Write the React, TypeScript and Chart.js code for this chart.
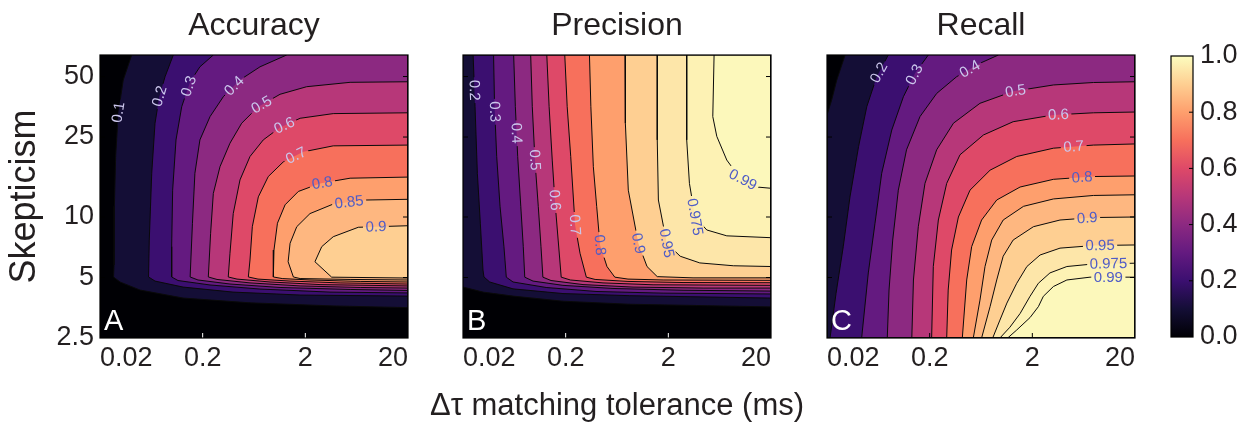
import React, { useEffect, useRef } from 'react';
import { Chart, registerables } from 'chart.js';

Chart.register(...registerables);

const FONT = "'Liberation Sans', Arial, Helvetica, sans-serif";
Chart.defaults.font.family = FONT;
Chart.defaults.color = '#231f20';

// ---------- axes ----------
const xMin = 0.02;
const xMax = 20;
const yMin = 2.5;
const yMax = 64;
const xTickValues = [0.02, 0.2, 2, 20];
const xTickLabels = ['0.02', '0.2', '2', '20'];
const yTickValues = [2.5, 5, 10, 25, 50];
const yTickLabels = ['2.5', '5', '10', '25', '50'];
const colorbarTickValues = [0, 0.2, 0.4, 0.6, 0.8, 1];
const colorbarTickLabels = ['0.0', '0.2', '0.4', '0.6', '0.8', '1.0'];
const xAxisLabel = 'Δτ matching tolerance (ms)';
const yAxisLabel = 'Skepticism';

// ---------- Accuracy (A) : contour lines [tolerance ms, skepticism] ----------
const accuracyLevels = [0.1, 0.2, 0.3, 0.4, 0.5, 0.6, 0.7, 0.8, 0.85, 0.9];
const accuracyContours = [
  [[0.0407, 64], [0.0337, 48.1], [0.0301, 32.9], [0.0284, 20.0], [0.0276, 11.3], [0.0274, 5.77], [0.0271, 5.03], [0.0313, 4.75], [0.049, 4.33], [0.129, 3.95], [0.578, 3.74], [3.72, 3.61], [20, 3.54]],
  [[0.1035, 64], [0.086, 49.9], [0.0756, 39.7], [0.0687, 29.3], [0.0638, 16.5], [0.0604, 7.68], [0.0594, 5.03], [0.0687, 4.8], [0.129, 4.48], [0.395, 4.23], [1.78, 4.09], [20, 4.04]],
  [[0.254, 64], [0.188, 55.9], [0.151, 47.1], [0.125, 35.4], [0.11, 24.2], [0.102, 13.6], [0.0998, 7.12], [0.0998, 5.03], [0.115, 4.83], [0.236, 4.59], [0.724, 4.38], [3.48, 4.23], [20, 4.19]],
  [[1.316, 64], [0.724, 55.9], [0.462, 48.1], [0.318, 39.7], [0.236, 31.6], [0.188, 24.2], [0.168, 16.5], [0.159, 9.31], [0.151, 5.03], [0.18, 4.86], [0.369, 4.64], [1.134, 4.46], [5.46, 4.36], [20, 4.31]],
  [[20, 47.1], [5.46, 46.8], [2.06, 44.5], [1.134, 40.8], [0.697, 35.4], [0.48, 29.3], [0.369, 23.3], [0.295, 17.8], [0.254, 13.1], [0.239, 8.3], [0.227, 5.03], [0.276, 4.89], [0.578, 4.7], [1.78, 4.54], [6.84, 4.46], [20, 4.43]],
  [[20, 33.0], [3.74, 32.7], [1.78, 31.0], [1.134, 27.9], [0.779, 24.2], [0.578, 20.0], [0.462, 15.3], [0.397, 10.4], [0.369, 6.6], [0.355, 5.03], [0.432, 4.91], [0.906, 4.75], [2.78, 4.61], [20, 4.54]],
  [[20, 22.8], [3.74, 22.6], [1.91, 21.1], [1.22, 18.8], [0.871, 15.9], [0.697, 12.6], [0.609, 8.95], [0.578, 6.11], [0.557, 5.03], [0.692, 4.91], [1.42, 4.8], [4.36, 4.7], [20, 4.64]],
  [[20, 15.8], [5.46, 15.6], [2.78, 14.7], [1.71, 13.4], [1.27, 11.5], [1.07, 9.31], [0.99, 6.85], [0.976, 5.03], [1.19, 4.94], [2.22, 4.86], [6.84, 4.78], [20, 4.75]],
  [[20, 12.25], [7.92, 12.15], [3.74, 11.6], [2.22, 10.4], [1.65, 8.95], [1.42, 7.4], [1.36, 5.99], [1.53, 5.03], [1.78, 4.94], [5.46, 4.89], [20, 4.86]],
  [[20, 9.05], [6.56, 8.89], [3.74, 7.98], [2.89, 7.12], [2.48, 5.99], [3.61, 5.02], [20, 4.97]],
];
const accuracyClosure = ['TR', 'TR', 'TR', 'TR', '', '', '', '', '', ''];
const accuracyLabels = [
  [0.1, 0.028, 33.4], [0.2, 0.0687, 40.5], [0.3, 0.151, 44.5], [0.4, 0.383, 46.3], [0.5, 0.712, 37.9],
  [0.6, 1.22, 29.3], [0.7, 1.62, 20.3], [0.8, 2.89, 15.3], [0.85, 5.24, 12.8], [0.9, 9.69, 9.74],
];

// ---------- Precision (B) ----------
const precisionLevels = [0.1, 0.2, 0.3, 0.4, 0.5, 0.6, 0.7, 0.8, 0.9, 0.95, 0.975, 0.99];
const precisionContours = [
  [[0.02, 4.48], [0.0313, 4.23], [0.0614, 4.04], [0.188, 3.81], [0.841, 3.68], [20, 3.57]],
  [[0.0251, 64], [0.0262, 35.4], [0.0276, 16.5], [0.0295, 9.31], [0.0313, 5.45], [0.032, 5.03], [0.0364, 4.75], [0.0614, 4.39], [0.188, 4.16], [0.841, 4.06], [20, 3.95]],
  [[0.0397, 64], [0.0406, 35.4], [0.0426, 20.0], [0.0459, 11.3], [0.0501, 7.12], [0.0528, 5.02], [0.0614, 4.75], [0.129, 4.46], [0.395, 4.26], [1.78, 4.18], [20, 4.14]],
  [[0.0623, 64], [0.0647, 35.4], [0.0682, 20.0], [0.0731, 11.3], [0.0773, 7.12], [0.0799, 5.02], [0.0961, 4.8], [0.188, 4.57], [0.578, 4.41], [2.78, 4.32], [20, 4.28]],
  [[0.0913, 64], [0.0946, 35.4], [0.1004, 19.2], [0.1082, 11.3], [0.115, 7.12], [0.12, 5.02], [0.144, 4.83], [0.295, 4.61], [0.906, 4.48], [4.36, 4.43], [20, 4.43]],
  [[0.131, 64], [0.138, 35.4], [0.148, 19.2], [0.157, 12.15], [0.169, 7.68], [0.181, 5.02], [0.222, 4.86], [0.462, 4.7], [1.42, 4.6], [20, 4.57]],
  [[0.196, 64], [0.207, 35.4], [0.224, 20.0], [0.247, 9.13], [0.276, 6.6], [0.318, 5.02], [0.387, 4.89], [0.809, 4.78], [2.78, 4.72], [20, 4.71]],
  [[0.341, 64], [0.352, 35.4], [0.372, 17.8], [0.401, 11.3], [0.432, 7.26], [0.505, 5.67], [0.602, 5.02], [0.809, 4.91], [1.78, 4.86], [20, 4.84]],
  [[0.757, 64], [0.763, 29.3], [0.815, 13.6], [1.02, 7.4], [1.24, 5.67], [1.56, 5.05], [3.48, 4.98], [20, 4.98]],
  [[1.56, 64], [1.56, 24.2], [1.6, 12.15], [1.93, 7.4], [2.61, 6.38], [4.05, 5.91], [8.59, 5.72], [20, 5.67]],
  [[3.02, 64], [3.02, 24.2], [3.21, 14.7], [3.64, 10.0], [4.74, 8.62], [7.42, 8.06], [20, 7.89]],
  [[5.58, 64], [5.42, 31.6], [5.93, 25.2], [7.42, 19.2], [10.0, 15.6], [14.6, 14.1], [20, 13.9]],
];
const precisionClosure = ['TR,TL', 'TR', 'TR', 'TR', 'TR', 'TR', 'TR', 'TR', 'TR', 'TR', 'TR', 'TR'];
const precisionLabels = [
  [0.2, 0.0262, 42.8], [0.3, 0.0426, 33.4], [0.4, 0.0656, 26.1], [0.5, 0.0983, 19.2], [0.6, 0.157, 12.15],
  [0.7, 0.247, 9.13], [0.8, 0.432, 7.26], [0.9, 1.02, 7.4], [0.95, 1.93, 7.4], [0.975, 3.64, 10.0], [0.99, 9.27, 13.4],
];

// ---------- Recall (C) ----------
const recallLevels = [0.1, 0.2, 0.3, 0.4, 0.5, 0.6, 0.7, 0.8, 0.85, 0.9, 0.95, 0.975, 0.99];
const recallContours = [
  [[0.03, 64], [0.0249, 48.1], [0.0222, 38.2], [0.02, 32.2]],
  [[0.079, 64], [0.061, 49.9], [0.0488, 35.4], [0.0406, 22.4], [0.0335, 12.6], [0.0288, 7.12], [0.0245, 4.17], [0.0214, 2.5]],
  [[0.194, 64], [0.144, 51.9], [0.111, 39.7], [0.0855, 27.1], [0.0682, 16.5], [0.0587, 9.31], [0.0505, 5.27], [0.0435, 2.5]],
  [[0.934, 64], [0.618, 58.2], [0.366, 49.9], [0.234, 41.2], [0.161, 31.6], [0.119, 21.6], [0.099, 13.6], [0.0873, 7.68], [0.0804, 4.33], [0.0773, 2.5]],
  [[20, 47.1], [7.87, 46.7], [3.21, 45.4], [1.3, 42.2], [0.618, 36.8], [0.341, 29.3], [0.234, 21.6], [0.18, 14.7], [0.155, 8.95], [0.139, 4.86], [0.134, 2.5]],
  [[20, 33.3], [7.87, 33.0], [3.21, 32.2], [1.3, 29.8], [0.668, 25.6], [0.395, 20.4], [0.293, 14.7], [0.243, 9.66], [0.217, 5.67], [0.209, 2.5]],
  [[20, 23.1], [7.87, 22.8], [3.21, 22.0], [1.41, 20.0], [0.775, 17.1], [0.494, 13.6], [0.381, 10.0], [0.327, 6.85], [0.303, 4.33], [0.293, 2.5]],
  [[20, 16.0], [7.87, 15.9], [3.21, 15.4], [1.52, 14.1], [0.9, 12.15], [0.641, 9.66], [0.513, 7.12], [0.459, 4.86], [0.416, 2.5]],
  [[20, 12.9], [7.87, 12.8], [3.21, 12.3], [1.64, 11.3], [1.04, 9.66], [0.804, 7.68], [0.692, 5.67], [0.618, 3.86], [0.532, 2.5]],
  [[20, 10.0], [7.87, 9.94], [3.72, 9.66], [2.05, 8.95], [1.3, 7.68], [1.04, 6.38], [0.9, 4.86], [0.775, 3.58], [0.641, 2.5]],
  [[20, 7.26], [7.87, 7.21], [3.72, 7.0], [2.38, 6.47], [1.77, 5.67], [1.41, 4.68], [1.13, 3.73], [0.967, 3.07], [0.822, 2.5]],
  [[20, 5.89], [7.87, 5.84], [4.34, 5.67], [2.97, 5.27], [2.29, 4.68], [1.9, 4.03], [1.52, 3.31], [1.21, 2.83], [0.967, 2.5]],
  [[20, 5.02], [7.3, 5.02], [4.34, 4.86], [3.21, 4.51], [2.56, 4.03], [2.29, 3.58], [1.9, 3.16], [1.41, 2.74], [1.15, 2.5]],
];
const recallClosure = ['BL,BR,TR', 'BR,TR', 'BR,TR', 'BR,TR', 'BR', 'BR', 'BR', 'BR', 'BR', 'BR', 'BR', 'BR', 'BR'];
const recallLabels = [
  [0.2, 0.0656, 51.9], [0.3, 0.144, 50.9], [0.4, 0.494, 54.3], [0.5, 1.36, 43.7], [0.6, 3.58, 33.4],
  [0.7, 5.01, 23.7], [0.8, 6.05, 16.8], [0.9, 6.76, 10.75], [0.95, 9.12, 7.74], [0.975, 11.0, 6.16], [0.99, 11.0, 4.64],
];

// ---------- styling ----------
const MAGMA = ['#000004', '#140e36', '#3b0f70', '#641a80', '#8c2981', '#b73779', '#de4968', '#f7705c', '#fe9f6d', '#fecf92', '#fcfdbf'];
const LABEL_SIZE = 15;
const LABEL_LIGHT = '#cbc6ec';
const LABEL_DARK = '#4f5cc6';
const TICK = 5;

function hexToRgb(h: string) {
  const n = parseInt(h.slice(1), 16);
  return [(n >> 16) & 255, (n >> 8) & 255, n & 255];
}
function magma(t: number) {
  const s = Math.max(0, Math.min(1, t)) * 10;
  const i = Math.min(9, Math.floor(s));
  const f = s - i;
  const a = hexToRgb(MAGMA[i]);
  const b = hexToRgb(MAGMA[i + 1]);
  const c = a.map((v, k) => Math.round(v + (b[k] - v) * f));
  return `rgb(${c[0]},${c[1]},${c[2]})`;
}

const CORNER: any = {
  TL: { x: xMin, y: yMax },
  TR: { x: xMax, y: yMax },
  BL: { x: xMin, y: yMin },
  BR: { x: xMax, y: yMin },
};

function contourDecor(spec: any) {
  let gaps: any[] = [];
  return {
    id: 'contourDecor',
    beforeDraw(chart: any) {
      const { ctx, chartArea: a } = chart;
      ctx.save();
      ctx.fillStyle = MAGMA[0];
      ctx.fillRect(a.left, a.top, a.right - a.left, a.bottom - a.top);
      ctx.restore();
    },
    beforeDatasetsDraw(chart: any) {
      const xs = chart.scales.x;
      const ys = chart.scales.y;
      const ctx = chart.ctx;
      ctx.save();
      ctx.font = `${LABEL_SIZE}px ${FONT}`;
      gaps = spec.labels.map((lab: number[]) => {
        const [lv, lx, ly] = lab;
        const idx = spec.levels.indexOf(lv);
        const pts = spec.contours[idx].map((p: number[]) => [xs.getPixelForValue(p[0]), ys.getPixelForValue(p[1])]);
        const ax = xs.getPixelForValue(lx);
        const ay = ys.getPixelForValue(ly);
        let best = { d: Infinity, x: ax, y: ay, ang: 0 };
        for (let k = 0; k < pts.length - 1; k++) {
          const [x1, y1] = pts[k];
          const [x2, y2] = pts[k + 1];
          const dx = x2 - x1;
          const dy = y2 - y1;
          const L2 = dx * dx + dy * dy || 1;
          let t = ((ax - x1) * dx + (ay - y1) * dy) / L2;
          t = Math.max(0, Math.min(1, t));
          const px = x1 + t * dx;
          const py = y1 + t * dy;
          const d = (px - ax) ** 2 + (py - ay) ** 2;
          if (d < best.d) {
            let ang = Math.atan2(dy, dx);
            if (ang > Math.PI / 2) ang -= Math.PI;
            if (ang < -Math.PI / 2) ang += Math.PI;
            best = { d, x: px, y: py, ang };
          }
        }
        const text = String(lv);
        const w = ctx.measureText(text).width + 5;
        return { text, lv, x: best.x, y: best.y, ang: best.ang, w, h: LABEL_SIZE * 0.95 };
      });
      ctx.restore();
    },
    beforeDatasetDraw(chart: any) {
      const ctx = chart.ctx;
      ctx.save();
      ctx.beginPath();
      ctx.rect(0, 0, chart.width, chart.height);
      gaps.forEach((g) => {
        const c = Math.cos(g.ang);
        const s = Math.sin(g.ang);
        const hw = g.w / 2;
        const hh = g.h / 2;
        const q = [[-hw, -hh], [hw, -hh], [hw, hh], [-hw, hh]].map(([u, v]) => [g.x + u * c - v * s, g.y + u * s + v * c]);
        ctx.moveTo(q[0][0], q[0][1]);
        for (let k = 1; k < 4; k++) ctx.lineTo(q[k][0], q[k][1]);
        ctx.closePath();
      });
      ctx.clip('evenodd');
    },
    afterDatasetDraw(chart: any) {
      chart.ctx.restore();
    },
    afterDatasetsDraw(chart: any) {
      const { ctx, chartArea: a } = chart;
      const xs = chart.scales.x;
      const ys = chart.scales.y;
      ctx.save();
      ctx.font = `${LABEL_SIZE}px ${FONT}`;
      ctx.textAlign = 'center';
      ctx.textBaseline = 'middle';
      gaps.forEach((g) => {
        ctx.save();
        ctx.translate(g.x, g.y);
        ctx.rotate(g.ang);
        ctx.fillStyle = g.lv <= 0.75 ? LABEL_LIGHT : LABEL_DARK;
        ctx.fillText(g.text, 0, 0.5);
        ctx.restore();
      });
      ctx.lineWidth = 1;
      xTickValues.forEach((v) => {
        const px = xs.getPixelForValue(v);
        if (px <= a.left + 1 || px >= a.right - 1) return;
        ctx.strokeStyle = spec.bottomTickColor;
        ctx.beginPath();
        ctx.moveTo(px, a.bottom);
        ctx.lineTo(px, a.bottom - TICK);
        ctx.stroke();
      });
      ctx.strokeStyle = '#000';
      yTickValues.forEach((v) => {
        const py = ys.getPixelForValue(v);
        if (py >= a.bottom - 1 || py <= a.top + 1) return;
        ctx.beginPath();
        ctx.moveTo(a.right, py);
        ctx.lineTo(a.right - TICK, py);
        ctx.moveTo(a.left, py);
        ctx.lineTo(a.left + TICK, py);
        ctx.stroke();
      });
      ctx.lineWidth = 1.2;
      ctx.strokeStyle = '#000';
      ctx.strokeRect(a.left, a.top, a.right - a.left, a.bottom - a.top);
      ctx.fillStyle = '#ffffff';
      ctx.font = `29px ${FONT}`;
      ctx.textAlign = 'left';
      ctx.textBaseline = 'alphabetic';
      ctx.fillText(spec.letter, a.left + 4, a.bottom - 8);
      if (spec.xTitle) {
        // shared x-axis label, centred under this panel (drawn without width compression)
        ctx.fillStyle = '#231f20';
        ctx.font = `31px ${FONT}`;
        ctx.textAlign = 'center';
        ctx.fillText(spec.xTitle, (a.left + a.right) / 2, 415);
      }
      ctx.restore();
    },
  };
}

function makePanel(canvas: HTMLCanvasElement, spec: any) {
  const datasets = spec.levels
    .map((lv: number, i: number) => {
      const pts = spec.contours[i].map((p: number[]) => ({ x: p[0], y: p[1] }));
      const corners = spec.closure[i] ? spec.closure[i].split(',').map((c: string) => CORNER[c]) : [];
      return {
        data: [...pts, ...corners],
        fill: 'shape',
        backgroundColor: magma(lv),
        borderColor: '#0a0a0a',
        borderWidth: 1,
        pointRadius: 0,
        tension: 0,
        clip: 0,
      };
    })
    .reverse();

  return new Chart(canvas, {
    type: 'line',
    data: { datasets },
    options: {
      responsive: false,
      animation: false,
      events: [],
      layout: { padding: { left: spec.padLeft, right: spec.padRight, top: 0, bottom: 0 } },
      plugins: {
        legend: { display: false },
        tooltip: { enabled: false },
        filler: { drawTime: 'beforeDatasetsDraw', propagate: false },
        title: {
          display: true,
          text: spec.title,
          fullSize: false,
          color: '#231f20',
          font: { size: 32, weight: 'normal', family: FONT, lineHeight: 1.2 },
          padding: { top: 7, bottom: 9.6 },
        },
      },
      scales: {
        x: {
          type: 'logarithmic',
          min: xMin,
          max: xMax,
          afterBuildTicks: (s: any) => {
            s.ticks = xTickValues.map((v) => ({ value: v }));
          },
          afterFit: (s: any) => {
            s.height = 92;
          },
          grid: { display: false, drawTicks: false, tickLength: 0 },
          border: { display: false },
          ticks: {
            autoSkip: false,
            maxRotation: 0,
            minRotation: 0,
            align: 'inner',
            padding: 4,
            font: { size: 27 },
            color: '#231f20',
            callback: (_v: any, i: number) => xTickLabels[i],
          },
        },
        y: {
          type: 'logarithmic',
          min: yMin,
          max: yMax,
          display: spec.showY,
          afterBuildTicks: (s: any) => {
            s.ticks = yTickValues.map((v) => ({ value: v }));
          },
          afterFit: (s: any) => {
            s.width = spec.showY ? 100 : 0;
          },
          grid: { display: false, drawTicks: false, tickLength: 0 },
          border: { display: false },
          ticks: {
            autoSkip: false,
            padding: 6,
            font: { size: 27 },
            color: '#231f20',
            callback: (_v: any, i: number) => yTickLabels[i],
          },
          title: spec.yTitle
            ? {
                display: true,
                text: spec.yTitle,
                font: { size: 36, lineHeight: 1.2 },
                color: '#231f20',
                padding: { top: 3, bottom: 0 },
              }
            : { display: false },
        },
      },
    },
    plugins: [contourDecor(spec)],
  } as any);
}

function makeColorbar(canvas: HTMLCanvasElement) {
  return new Chart(canvas, {
    type: 'bar',
    data: {
      labels: ['colorbar'],
      datasets: [
        {
          data: [[0, 1]],
          barPercentage: 1,
          categoryPercentage: 1,
          borderWidth: 0,
          backgroundColor: (c: any) => {
            const ch = c.chart;
            const a = ch.chartArea;
            if (!a) return '#000';
            const g = ch.ctx.createLinearGradient(0, a.bottom, 0, a.top);
            MAGMA.forEach((col, i) => g.addColorStop(i / 10, col));
            return g;
          },
        },
      ],
    },
    options: {
      responsive: false,
      animation: false,
      events: [],
      layout: { padding: { left: 1171, right: 0, top: 56, bottom: 93 } },
      plugins: { legend: { display: false }, tooltip: { enabled: false } },
      scales: {
        x: { display: false },
        y: {
          position: 'right',
          min: 0,
          max: 1,
          afterBuildTicks: (s: any) => {
            s.ticks = colorbarTickValues.map((v) => ({ value: v }));
          },
          afterFit: (s: any) => {
            s.width = 51;
          },
          grid: { display: false, drawTicks: false, tickLength: 0 },
          border: { display: false },
          ticks: {
            autoSkip: false,
            padding: 7,
            font: { size: 27 },
            color: '#231f20',
            callback: (_v: any, i: number) => colorbarTickLabels[i],
          },
        },
      },
    },
    plugins: [
      {
        id: 'colorbarFrame',
        afterDatasetsDraw(chart: any) {
          const { ctx, chartArea: a } = chart;
          const ys = chart.scales.y;
          ctx.save();
          ctx.strokeStyle = '#000';
          ctx.lineWidth = 1;
          colorbarTickValues.forEach((v) => {
            const py = ys.getPixelForValue(v);
            if (py >= a.bottom - 1 || py <= a.top + 1) return;
            ctx.beginPath();
            ctx.moveTo(a.right, py);
            ctx.lineTo(a.right - 4, py);
            ctx.stroke();
          });
          ctx.lineWidth = 1.2;
          ctx.strokeRect(a.left, a.top, a.right - a.left, a.bottom - a.top);
          ctx.restore();
        },
      },
    ],
  } as any);
}

const PANELS = [
  {
    title: 'Accuracy', letter: 'A', levels: accuracyLevels, contours: accuracyContours, closure: accuracyClosure,
    labels: accuracyLabels, padLeft: 0, padRight: 836, showY: true, yTitle: yAxisLabel, xTitle: '', bottomTickColor: '#ffffff',
  },
  {
    title: 'Precision', letter: 'B', levels: precisionLevels, contours: precisionContours, closure: precisionClosure,
    labels: precisionLabels, padLeft: 463, padRight: 473, showY: false, yTitle: '', xTitle: xAxisLabel, bottomTickColor: '#ffffff',
  },
  {
    title: 'Recall', letter: 'C', levels: recallLevels, contours: recallContours, closure: recallClosure,
    labels: recallLabels, padLeft: 827, padRight: 109, showY: false, yTitle: '', xTitle: '', bottomTickColor: '#000000',
  },
];

export default function App() {
  const r0 = useRef<HTMLCanvasElement>(null);
  const r1 = useRef<HTMLCanvasElement>(null);
  const r2 = useRef<HTMLCanvasElement>(null);
  const r3 = useRef<HTMLCanvasElement>(null);

  useEffect(() => {
    document.body.style.margin = '0';
    const charts: Chart[] = [];
    [r0, r1, r2].forEach((r, i) => {
      if (r.current) charts.push(makePanel(r.current, PANELS[i]));
    });
    if (r3.current) charts.push(makeColorbar(r3.current));
    return () => charts.forEach((c) => c.destroy());
  }, []);

  const cs: React.CSSProperties = { position: 'absolute', left: 0, top: 0, width: 1244, height: 430 };
  return (
    <div style={{ position: 'absolute', left: 0, top: 0, width: 1244, height: 430, background: '#ffffff', overflow: 'hidden' }}>
      <canvas ref={r0} width={1244} height={430} style={cs} />
      <canvas ref={r1} width={1244} height={430} style={cs} />
      <canvas ref={r2} width={1244} height={430} style={cs} />
      <canvas ref={r3} width={1244} height={430} style={cs} />
    </div>
  );
}
